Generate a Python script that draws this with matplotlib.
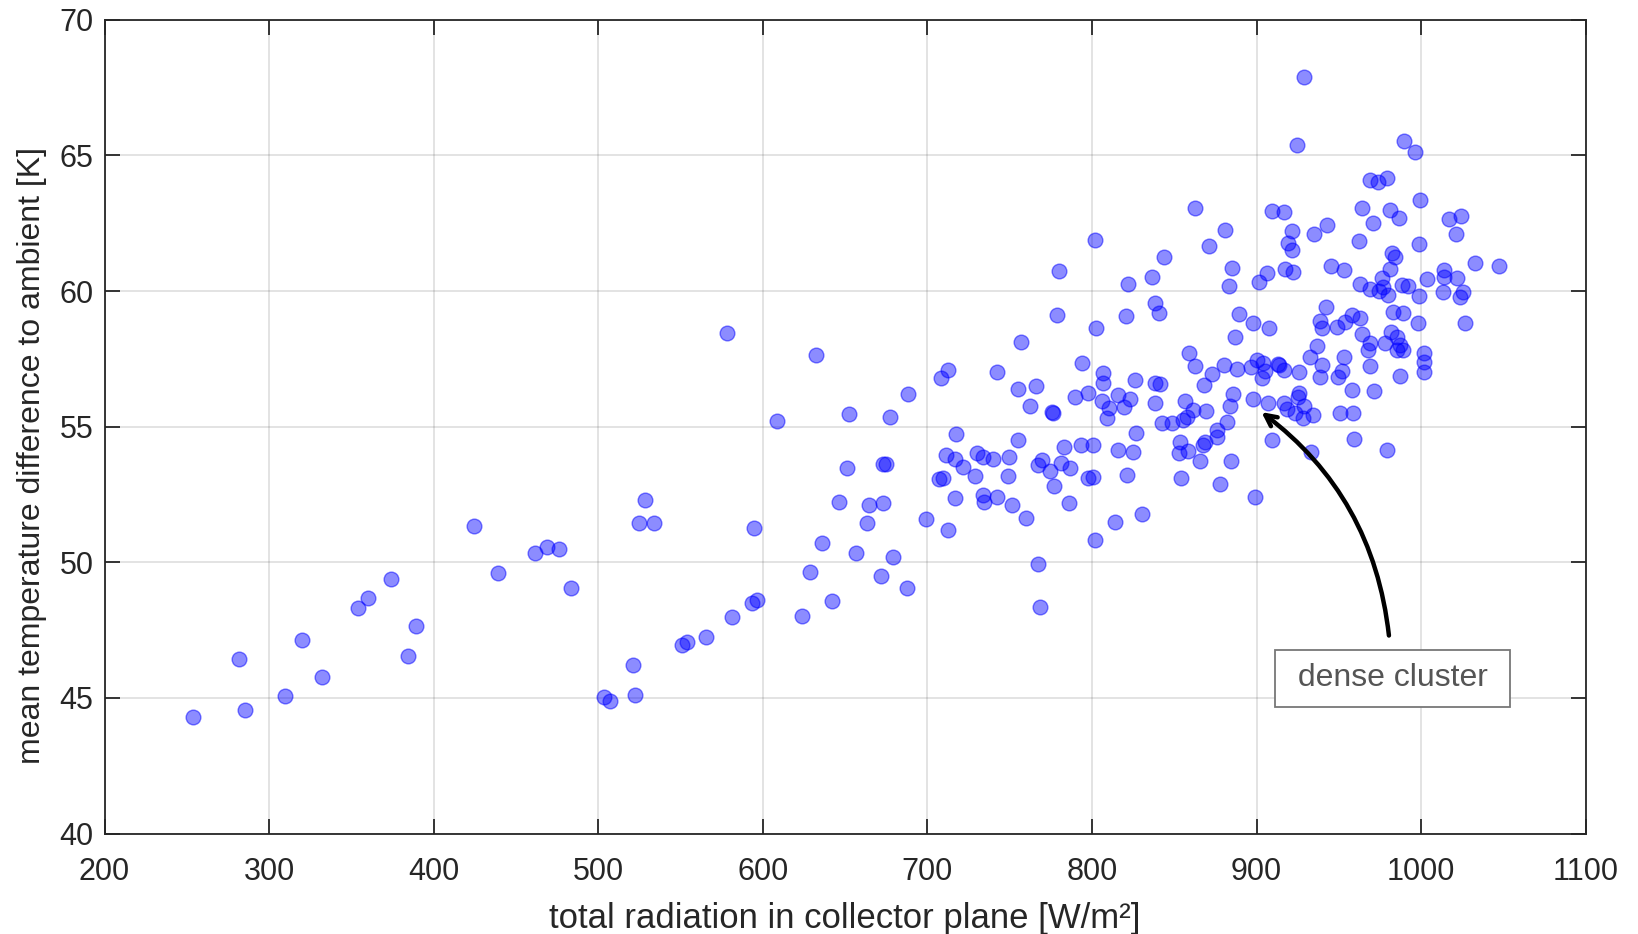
import numpy as np
import matplotlib
matplotlib.use("Agg")
import matplotlib.pyplot as plt

# total radiation in collector plane [W/m2]
radiation = [
    253.6, 281.9, 285.6, 309.7, 320.0, 332.0, 354.2, 360.3, 374.1, 389.3,
    384.2, 424.5, 438.9, 461.6, 469.1, 476.3, 483.4, 503.5, 507.1, 522.3,
    520.9, 528.2, 525.0, 533.9, 578.4, 594.6, 550.7, 554.1, 565.3, 581.1,
    593.2, 596.3, 608.8, 632.5, 623.8, 641.8, 628.5, 635.8, 656.6, 671.8,
    687.4, 678.9, 663.1, 646.5, 664.3, 673.2, 651.0, 672.8, 674.8, 652.4,
    677.5, 688.0, 699.3, 707.2, 709.7, 708.3, 712.7, 711.3, 712.7, 717.2,
    717.0, 721.6, 717.0, 729.9, 733.6, 739.7, 728.9, 733.6, 734.4, 742.1,
    751.6, 760.0, 749.7, 748.8, 755.0, 767.2, 769.4, 774.3, 776.7, 781.2,
    783.2, 786.8, 786.2, 793.1, 800.8, 797.8, 800.8, 801.8, 767.4, 768.2,
    757.1, 778.6, 780.2, 802.1, 802.5, 742.0, 755.2, 766.1, 762.5, 775.5,
    776.0, 789.5, 797.8, 793.8, 928.8, 924.4, 989.6, 996.3, 968.8, 973.6,
    979.1, 862.3, 909.2, 916.7, 963.9, 981.1, 970.5, 880.7, 921.7, 942.8,
    934.9, 962.3, 871.1, 919.3, 921.7, 843.9, 982.1, 836.7, 822.1, 884.9,
    883.4, 901.7, 906.1, 917.3, 922.0, 945.1, 953.1, 962.8, 968.8, 974.3,
    977.0, 980.0, 976.0, 981.1, 984.1, 988.2, 992.2, 1003.4, 998.9, 1013.8,
    1013.8, 1021.9, 1025.6, 1023.6, 1013.0, 1032.8, 1047.1, 1026.6, 999.3, 986.8,
    998.9, 1016.7, 1024.0, 1021.0, 820.4, 838.3, 840.7, 889.5, 898.0, 907.5,
    886.9, 942.4, 938.5, 939.9, 948.6, 953.7, 957.8, 962.9, 963.9, 968.9,
    967.9, 983.1, 988.8, 981.5, 985.1, 987.2, 978.0, 985.1, 989.2, 998.3,
    1001.7, 1001.7, 1001.7, 987.2, 936.5, 932.5, 939.6, 938.5, 953.1, 951.7,
    949.7, 968.9, 958.2, 971.4, 959.4, 979.1, 950.7, 958.4, 932.9, 926.0,
    926.0, 925.0, 928.8, 934.5, 918.3, 923.3, 928.4, 916.9, 916.9, 913.2,
    900.4, 904.1, 905.1, 903.1, 896.4, 888.3, 880.2, 872.9, 868.1, 862.4,
    859.0, 885.5, 883.9, 869.3, 898.0, 906.7, 856.5, 861.6, 857.6, 855.5,
    842.7, 848.8, 882.0, 875.8, 876.1, 868.7, 867.3, 853.7, 853.1, 858.2,
    865.8, 854.0, 884.6, 877.9, 898.9, 909.2, 806.5, 806.5, 826.1, 838.3,
    841.4, 838.3, 823.1, 819.5, 816.0, 810.5, 808.9, 805.9, 815.7, 825.2,
    826.9, 821.1, 814.2, 830.4, 913.6,
]

# mean temperature difference to ambient [K]
temp_diff = [
    44.29, 46.44, 44.56, 45.07, 47.13, 45.78, 48.31, 48.68, 49.38, 47.66,
    46.56, 51.34, 49.60, 50.36, 50.56, 50.49, 49.07, 45.03, 44.88, 45.11,
    46.22, 52.30, 51.44, 51.46, 58.46, 51.26, 46.96, 47.08, 47.26, 47.98,
    48.49, 48.61, 55.20, 57.63, 48.02, 48.59, 49.66, 50.73, 50.34, 49.51,
    49.05, 50.20, 51.46, 52.24, 52.10, 52.19, 53.49, 53.62, 53.62, 55.45,
    55.37, 56.21, 51.60, 53.06, 53.10, 56.79, 57.09, 53.96, 51.19, 54.73,
    53.82, 53.50, 52.38, 54.04, 53.90, 53.80, 53.20, 52.47, 52.24, 52.40,
    52.13, 51.63, 53.90, 53.20, 54.50, 53.59, 53.77, 53.36, 52.82, 53.65,
    54.24, 53.48, 52.17, 54.33, 54.33, 53.10, 53.16, 50.83, 49.93, 48.37,
    58.11, 59.13, 60.75, 61.88, 58.63, 57.00, 56.38, 56.50, 55.75, 55.55,
    55.50, 56.10, 56.23, 57.36, 67.88, 65.39, 65.52, 65.12, 64.10, 64.03,
    64.16, 63.05, 62.96, 62.90, 63.07, 63.00, 62.51, 62.25, 62.20, 62.42,
    62.12, 61.86, 61.66, 61.76, 61.52, 61.27, 61.39, 60.53, 60.25, 60.85,
    60.18, 60.34, 60.66, 60.81, 60.69, 60.91, 60.77, 60.26, 60.08, 60.01,
    60.16, 59.86, 60.47, 60.80, 61.27, 60.22, 60.20, 60.43, 59.82, 60.78,
    60.53, 60.47, 59.98, 59.79, 59.98, 61.02, 60.94, 58.81, 63.36, 62.71,
    61.74, 62.65, 62.78, 62.10, 59.08, 59.55, 59.18, 59.16, 58.84, 58.63,
    58.32, 59.40, 58.91, 58.63, 58.67, 58.86, 59.12, 59.02, 58.42, 58.10,
    57.83, 59.22, 59.18, 58.50, 58.32, 58.01, 58.08, 57.83, 57.83, 58.81,
    57.71, 57.40, 57.03, 56.87, 57.98, 57.58, 57.28, 56.85, 57.58, 57.07,
    56.85, 57.24, 56.35, 56.33, 54.54, 54.14, 55.50, 55.50, 54.06, 57.00,
    56.26, 56.11, 55.76, 55.43, 55.67, 55.52, 55.31, 55.89, 57.09, 57.31,
    57.46, 57.34, 57.07, 56.79, 57.21, 57.13, 57.27, 56.94, 56.55, 57.25,
    57.71, 56.21, 55.78, 55.59, 56.01, 55.89, 55.95, 55.62, 55.37, 55.25,
    55.13, 55.13, 55.16, 54.88, 54.63, 54.45, 54.33, 54.45, 54.02, 54.10,
    53.75, 53.10, 53.74, 52.88, 52.42, 54.50, 56.97, 56.60, 56.72, 56.60,
    56.56, 55.89, 56.03, 55.74, 56.17, 55.68, 55.31, 55.96, 54.14, 54.06,
    54.78, 53.22, 51.48, 51.79, 57.28,
]

x_ticks = [200, 300, 400, 500, 600, 700, 800, 900, 1000, 1100]
y_ticks = [40, 45, 50, 55, 60, 65, 70]

plt.rcParams["font.family"] = ["Liberation Sans", "DejaVu Sans"]

fig = plt.figure(figsize=(16.38, 9.34), dpi=100)
ax = fig.add_axes([0.0638, 0.1075, 0.9043, 0.8713])

ax.scatter(radiation, temp_diff, s=112, facecolor=(0, 0, 1, 0.45),
           edgecolor=(0, 0, 1, 0.5), linewidth=1.0, zorder=3)

ax.set_xlim(200, 1100)
ax.set_ylim(40, 70)
ax.set_xticks(x_ticks)
ax.set_yticks(y_ticks)
ax.tick_params(direction="in", length=11, width=1.3, labelsize=22,
               colors="#262626", top=True, right=True)
ax.tick_params(axis="x", pad=17)
ax.tick_params(axis="y", pad=8)
ax.grid(True, color="#262626", alpha=0.15, linewidth=1.2)
ax.set_axisbelow(True)
for sp in ax.spines.values():
    sp.set_color("#262626")
    sp.set_linewidth(1.3)

ax.set_xlabel("total radiation in collector plane [W/m²]", fontsize=25,
              color="#262626", labelpad=11)
ax.set_ylabel("mean temperature difference to ambient [K]", fontsize=23,
              color="#262626")
ax.yaxis.set_label_coords(-0.039, 0.465)

# annotation
ax.annotate("", xy=(901.6, 55.6), xytext=(980.6, 47.2),
            arrowprops=dict(arrowstyle="->,head_length=0.8,head_width=0.4",
                            color="black", lw=3.2,
                            connectionstyle="arc3,rad=0.22"),
            zorder=4)
ax.text(982.6, 45.72, " dense cluster ", fontsize=23, color="#555555",
        ha="center", va="center", zorder=5,
        bbox=dict(boxstyle="square,pad=0.42", facecolor="white",
                  edgecolor="#777777", linewidth=1.3))

plt.savefig("out.png", dpi=100)
